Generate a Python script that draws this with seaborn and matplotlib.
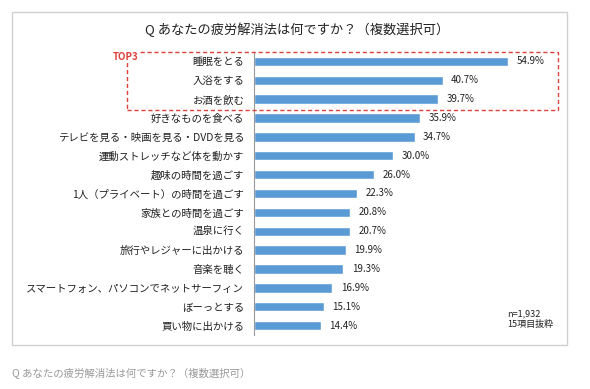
import matplotlib
matplotlib.use("Agg")
import matplotlib.pyplot as plt
from matplotlib.patches import Rectangle
import seaborn as sns
import pandas as pd

sns.set_theme(style="white")
plt.rcParams['font.family'] = ['Noto Sans CJK JP', 'DejaVu Sans']

# data
items = ["睡眠をとる", "入浴をする", "お酒を飲む", "好きなものを食べる",
         "テレビを見る・映画を見る・DVDを見る", "運動ストレッチなど体を動かす",
         "趣味の時間を過ごす", "1人（プライベート）の時間を過ごす", "家族との時間を過ごす",
         "温泉に行く", "旅行やレジャーに出かける", "音楽を聴く",
         "スマートフォン、パソコンでネットサーフィン", "ぼーっとする", "買い物に出かける"]
values = [54.9, 40.7, 39.7, 35.9, 34.7, 30.0, 26.0, 22.3, 20.8, 20.7, 19.9, 19.3, 16.9, 15.1, 14.4]
title = "Q あなたの疲労解消法は何ですか？（複数選択可）"
note = "n=1,932\n15項目抜粋"

df = pd.DataFrame({"item": items, "value": values})

W, H = 590, 389
fig = plt.figure(figsize=(W / 100, H / 100), dpi=100)
fig.patch.set_facecolor("white")

def fx(px):
    return px / W

def fy(py):
    return 1 - py / H

# outer frame
fig.patches.append(Rectangle((fx(12), fy(345)), fx(555), 333 / H, transform=fig.transFigure,
                             fill=False, edgecolor="#d0d0d0", linewidth=1.0))

ax = fig.add_axes([fx(254), fy(335), fx(278), 283 / H])
sns.barplot(data=df, x="value", y="item", color="#5b9bd5", width=0.5,
            saturation=1, ax=ax, orient="h")
ax.set_xlim(0, 60)
ax.set_ylim(14.5, -0.5)
ax.set_xlabel("")
ax.set_ylabel("")
ax.set_xticks([])
ax.tick_params(axis="y", length=0, pad=7, labelsize=7.5, colors="#222222")
for s in ["top", "right", "bottom"]:
    ax.spines[s].set_visible(False)
ax.spines["left"].set_color("#999999")
ax.spines["left"].set_linewidth(0.8)
ax.set_facecolor("none")

ax.bar_label(ax.containers[0], labels=[f"{v:.1f}%" for v in values],
             padding=6, fontsize=7, color="#222222")

# title
fig.text(fx(297), fy(30), title, ha="center", va="center", fontsize=9.5, color="#222222")

# top3 box
fig.patches.append(Rectangle((fx(127), fy(110)), fx(431), 58 / H, transform=fig.transFigure,
                             fill=False, edgecolor="#e0403a", linewidth=1.0, linestyle=(0, (3, 2))))
fig.text(fx(113), fy(57), "TOP3", ha="left", va="center", fontsize=7, color="#e0403a",
         fontweight="bold", bbox=dict(facecolor="white", edgecolor="none", pad=1))

# note
fig.text(fx(507), fy(319), note, ha="left", va="center", fontsize=6.5, color="#222222",
         linespacing=1.2)

# caption
fig.text(fx(12), fy(373), title, ha="left", va="center", fontsize=7.5, color="#999999")

fig.savefig("out.png", dpi=100, facecolor="white")
